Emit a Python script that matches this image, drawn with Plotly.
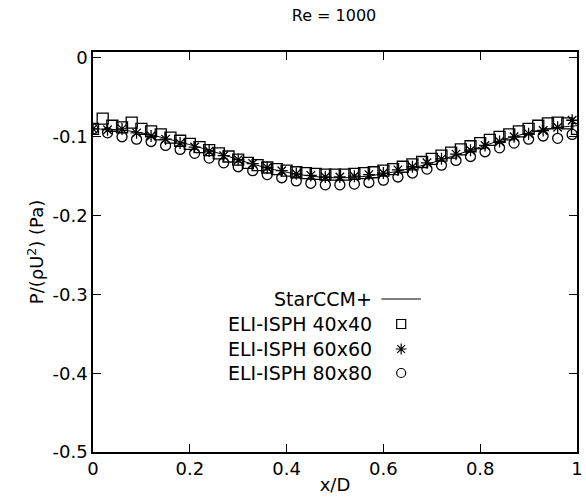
import plotly.graph_objects as go

# ---------------- data ----------------
star_x = [0.00, 0.05, 0.10, 0.15, 0.20, 0.25, 0.30, 0.35, 0.40, 0.45, 0.50,
          0.55, 0.60, 0.65, 0.70, 0.75, 0.80, 0.85, 0.90, 0.95, 1.00]
star_y = [-0.090, -0.091, -0.095, -0.102, -0.110, -0.119, -0.129, -0.138, -0.145, -0.150, -0.152,
          -0.151, -0.147, -0.141, -0.133, -0.123, -0.113, -0.103, -0.095, -0.089, -0.086]

sq_x = [round(i * 0.02, 2) for i in range(51)]
sq_y = [-0.090, -0.077, -0.086, -0.088, -0.082, -0.090, -0.093, -0.097, -0.101, -0.105,
        -0.109, -0.113, -0.117, -0.121, -0.125, -0.129, -0.133, -0.136, -0.139, -0.141,
        -0.143, -0.145, -0.146, -0.147, -0.148, -0.148, -0.148, -0.147, -0.146, -0.145,
        -0.143, -0.141, -0.138, -0.135, -0.132, -0.128, -0.124, -0.120, -0.116, -0.112,
        -0.108, -0.104, -0.100, -0.097, -0.093, -0.090, -0.086, -0.083, -0.082, -0.083,
        -0.090]

ast_x = [round(i * 0.03, 2) for i in range(34)]
ast_y = [-0.090, -0.091, -0.090, -0.095, -0.099, -0.103, -0.108, -0.113, -0.118, -0.124,
         -0.129, -0.134, -0.139, -0.143, -0.147, -0.149, -0.151, -0.151, -0.150, -0.148,
         -0.146, -0.142, -0.138, -0.133, -0.128, -0.122, -0.117, -0.111, -0.106, -0.100,
         -0.096, -0.092, -0.088, -0.079]

cir_x = [round(i * 0.03, 2) for i in range(34)]
cir_y = [-0.090, -0.095, -0.100, -0.103, -0.106, -0.111, -0.116, -0.121, -0.127, -0.133,
         -0.138, -0.143, -0.148, -0.152, -0.156, -0.159, -0.161, -0.161, -0.160, -0.158,
         -0.155, -0.151, -0.146, -0.141, -0.136, -0.130, -0.125, -0.119, -0.114, -0.108,
         -0.103, -0.099, -0.102, -0.097]

x_ticks = [0, 0.2, 0.4, 0.6, 0.8, 1]
x_ticktext = ["0", "0.2", "0.4", "0.6", "0.8", "1"]
y_ticks = [0, -0.1, -0.2, -0.3, -0.4, -0.5]
y_ticktext = ["0", "-0.1", "-0.2", "-0.3", "-0.4", "-0.5"]

legend_names = ["StarCCM+", "ELI-ISPH 40x40", "ELI-ISPH 60x60", "ELI-ISPH 80x80"]

FONT = "DejaVu Sans"
FS = 18
W, H = 586, 504
ML, MR, MT, MB = 93, 3, 52, 52

fig = go.Figure()
fig.add_trace(go.Scatter(x=star_x, y=star_y, mode="lines", line=dict(color="black", width=1),
                         line_shape="spline", showlegend=False))
fig.add_trace(go.Scatter(x=sq_x, y=sq_y, mode="markers", showlegend=False,
                         marker=dict(symbol="square-open", size=11, color="black", line=dict(width=1.3))))
fig.add_trace(go.Scatter(x=ast_x, y=ast_y, mode="markers", showlegend=False,
                         marker=dict(symbol="asterisk-open", size=10, color="black", line=dict(width=1.3))))
fig.add_trace(go.Scatter(x=cir_x, y=cir_y, mode="markers", showlegend=False,
                         marker=dict(symbol="circle-open", size=10, color="black", line=dict(width=1.3))))

# manual key (gnuplot style: text then sample) on a helper 0..1 axis pair
pw = W - ML - MR
ph = H - MT - MB
def fx(px):
    return (px - ML) / pw
def fy(py):
    return (H - MB - py) / ph

rows = [299, 324, 349, 373]
text_right = 377
fig.add_trace(go.Scatter(x=[fx(385), fx(425)], y=[fy(rows[0])] * 2, mode="lines",
                         line=dict(color="black", width=1), xaxis="x2", yaxis="y2", showlegend=False))
for sym, r in zip(["square-open", "asterisk-open", "circle-open"], rows[1:]):
    fig.add_trace(go.Scatter(x=[fx(405)], y=[fy(r)], mode="markers", xaxis="x2", yaxis="y2",
                             showlegend=False,
                             marker=dict(symbol=sym, size=9, color="black", line=dict(width=1.2))))
for name, r in zip(legend_names, rows):
    fig.add_annotation(x=fx(text_right), y=fy(r), xref="paper", yref="paper", text=name,
                       showarrow=False, xanchor="right", yanchor="middle",
                       font=dict(family=FONT, size=19, color="black"))

axis_common = dict(showline=True, linecolor="black", linewidth=1.5, mirror="ticks",
                   ticks="inside", ticklen=8, tickcolor="black", tickwidth=1,
                   showgrid=False, zeroline=False, ticklabeloverflow="allow",
                   tickfont=dict(family=FONT, size=FS, color="black"))

fig.update_layout(
    width=W, height=H, autosize=False,
    margin=dict(l=ML, r=MR, t=MT, b=MB),
    plot_bgcolor="white", paper_bgcolor="white",
    title=dict(text="Re = 1000", x=fx(337), xref="paper", y=1 - 15 / H, yanchor="middle",
               xanchor="center", font=dict(family=FONT, size=16, color="black")),
    xaxis=dict(range=[0, 1], tickvals=x_ticks, ticktext=x_ticktext,
               title=dict(text="x/D", font=dict(family=FONT, size=FS, color="black"), standoff=0),
               **axis_common),
    yaxis=dict(range=[-0.5, 0.0076], tickvals=y_ticks, ticktext=y_ticktext,
               title=dict(text="P/(ρU<sup>2</sup>) (Pa)", font=dict(family=FONT, size=FS, color="black"),
                          standoff=4),
               **axis_common),
    xaxis2=dict(range=[0, 1], overlaying="x", visible=False, fixedrange=True),
    yaxis2=dict(range=[0, 1], overlaying="y", visible=False, fixedrange=True),
)

fig.write_html("out.html")
